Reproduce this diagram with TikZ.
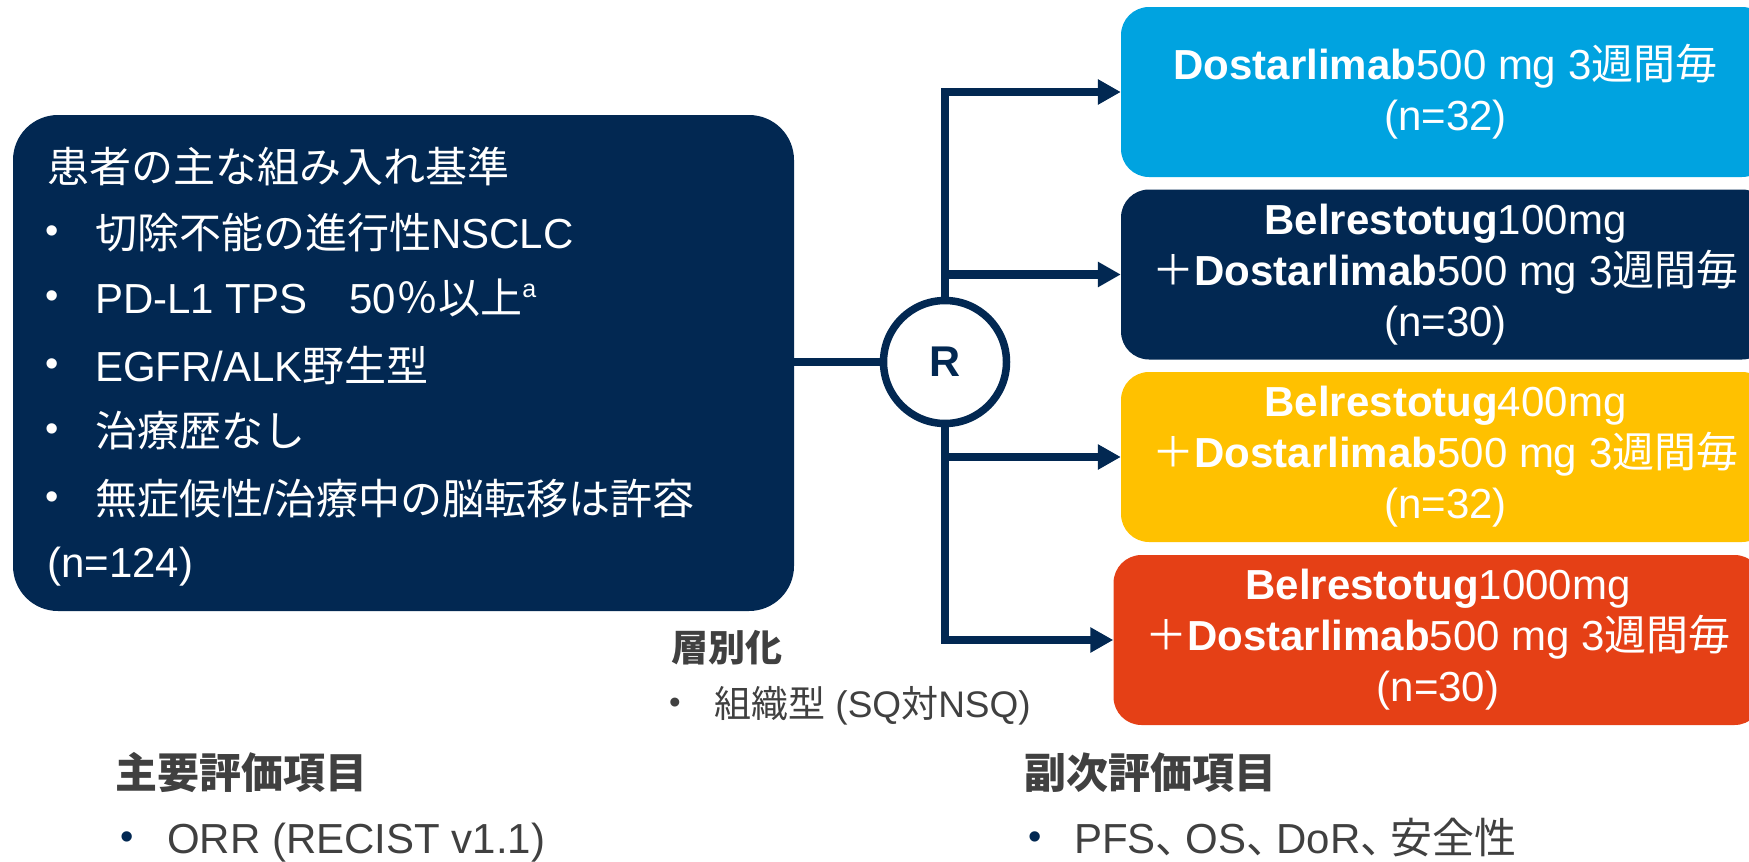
\documentclass[tikz,border=0pt]{standalone}
\usepackage{fontspec}
\setmainfont{Liberation Sans}
\newfontfamily\jp{Noto Sans CJK JP}
\usetikzlibrary{arrows.meta,backgrounds}
\definecolor{navy}{RGB}{2,40,82}
\definecolor{skyb}{RGB}{0,163,224}
\definecolor{gold}{RGB}{255,193,0}
\definecolor{redo}{RGB}{229,64,22}
\definecolor{txtgray}{RGB}{64,64,64}
\newcommand\fsA{\fontsize{42}{51}\selectfont}
\newcommand\fsB{\fontsize{37}{44}\selectfont}
\newcommand\fsBul{\fontsize{38}{40}\selectfont}
\newcommand\jcomma{{\jp 、}\kern-12pt}
\begin{document}
\begin{tikzpicture}[x=1pt,y=-1pt,
  armbox/.style={rounded corners=28pt, inner sep=0pt, minimum width=649pt, minimum height=170pt, text=white, align=center, font=\fsA},
  crit/.style={rounded corners=45pt, fill=navy, inner sep=0pt, minimum width=781pt, minimum height=496pt},
  wtxt/.style={anchor=base west, inner sep=0pt, text=white, font=\fsA},
  gtxt/.style={anchor=base west, inner sep=0pt, text=txtgray, font=\fsA},
  bul/.style={anchor=base west, inner sep=0pt, font=\fsBul},
  conn/.style={draw=navy, line width=8.5pt, -{Triangle[length=23pt,width=24pt]}},
  link/.style={draw=navy, line width=8.5pt}
]
\useasboundingbox (0,0) rectangle (1749,862);

% criteria box
\node[crit] (crit) at (403.5,363) {};
\node[wtxt] (t0) at (47,182) {\jp 患者の主な組み入れ基準};
\node[bul, text=white] (d1) at (45,243) {•};
\node[wtxt] (b1) at (95,248) {{\jp 切除不能の進行性}NSCLC};
\node[bul, text=white] (d2) at (45,308) {•};
\node[wtxt] (b2) at (95,313) {PD-L1 TPS{\jp 　}50{\jp ％以上}\raisebox{16pt}{\fontsize{25}{25}\selectfont a}};
\node[bul, text=white] (d3) at (45,376) {•};
\node[wtxt] (b3) at (95,381) {EGFR/ALK{\jp 野生型}};
\node[bul, text=white] (d4) at (45,441) {•};
\node[wtxt] (b4) at (95,446) {\jp 治療歴なし};
\node[bul, text=white] (d5) at (45,509) {•};
\node[wtxt] (b5) at (95,514) {{\jp 無症候性}/{\jp 治療中の脳転移は許容}};
\node[wtxt] (n0) at (47,577) {(n=124)};

% arms
\node[armbox, fill=skyb] (a1) at (1445.5,92) {{\bfseries Dostarlimab}500 mg 3{\jp 週間毎}\\(n=32)};
\node[armbox, fill=navy] (a2) at (1445.5,274.5) {{\bfseries Belrestotug}100mg\\{\jp ＋}{\bfseries Dostarlimab}500 mg 3{\jp 週間毎}\\(n=30)};
\node[armbox, fill=gold] (a3) at (1445.5,457) {{\bfseries Belrestotug}400mg\\{\jp ＋}{\bfseries Dostarlimab}500 mg 3{\jp 週間毎}\\(n=32)};
\node[armbox, fill=redo] (a4) at (1438,640) {{\bfseries Belrestotug}1000mg\\{\jp ＋}{\bfseries Dostarlimab}500 mg 3{\jp 週間毎}\\(n=30)};

% randomisation
\node[circle, draw=navy, line width=7.5pt, fill=white, minimum size=123pt, inner sep=0pt, text=navy, font=\fontsize{43}{43}\selectfont\bfseries] (R) at (945,362) {R};

\begin{scope}[on background layer]
\draw[link] (crit.east |- R) -- (R);
\draw[conn] (R) |- (a1.west);
\draw[conn] (R) |- (a2.west);
\draw[conn] (R) |- (a3.west);
\draw[conn] (R) |- (a4.west);
\end{scope}

% stratification
\node[anchor=base west, inner sep=0pt, text=txtgray, font=\fsB\bfseries] (s0) at (671,661) {\jp 層別化};
\node[bul, text=txtgray, font=\fontsize{33}{33}\selectfont] (sd) at (669,713) {•};
\node[anchor=base west, inner sep=0pt, text=txtgray, font=\fsB] (s1) at (714,717) {{\jp 組織型} (SQ{\jp 対}NSQ)};

% endpoints
\node[gtxt, font=\fsA\bfseries] (p0) at (115,788) {\jp 主要評価項目};
\node[bul, text=navy] (pd) at (120,849) {•};
\node[gtxt] (p1) at (167,853) {ORR (RECIST v1.1)};
\node[gtxt, font=\fsA\bfseries] (q0) at (1024,788) {\jp 副次評価項目};
\node[bul, text=navy] (qd) at (1028,849) {•};
\node[gtxt] (q1) at (1074,853) {PFS\jcomma OS\jcomma DoR\jcomma{\jp 安全性}};
\end{tikzpicture}
\end{document}
